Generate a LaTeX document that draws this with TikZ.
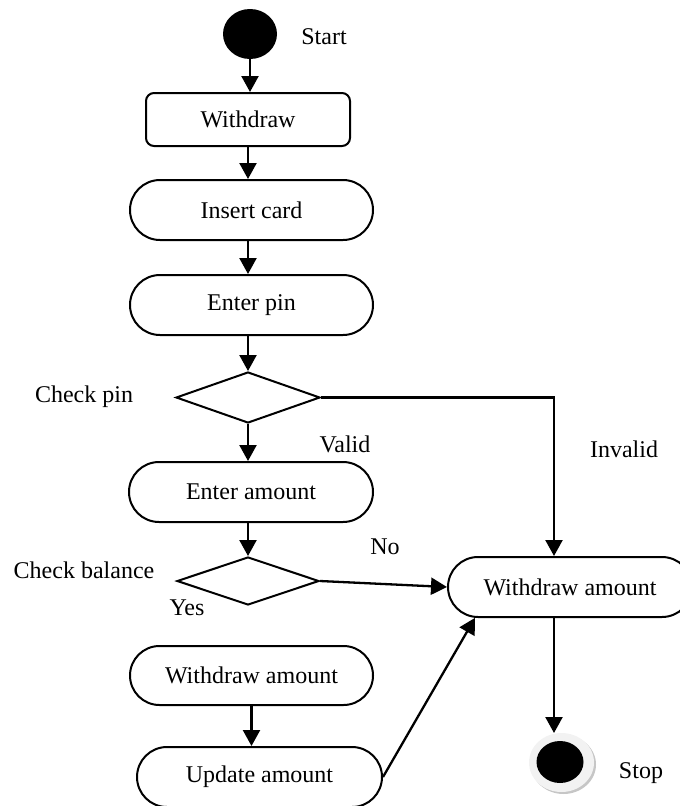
\documentclass[tikz,border=0pt]{standalone}
\usepackage{fontspec}
\setmainfont{Liberation Serif}
\usetikzlibrary{arrows.meta,shapes.geometric,shapes.misc}

\begin{document}
\begin{tikzpicture}[x=1pt,y=-1pt,
  every node/.style={font=\fontsize{24}{28}\selectfont},
  conn/.style={line width=2.3pt,-{Triangle[length=16pt,width=17pt]}},
  box/.style={draw,line width=2pt,inner sep=0pt},
  act/.style={box,rounded rectangle,minimum width=243pt,minimum height=60pt},
  dec/.style={box,diamond},
  lbl/.style={inner sep=0pt}]
  \useasboundingbox (0,0) rectangle (680,806);
  \clip (0,0) rectangle (680,806);

  % initial state
  \node[ellipse,fill=black,inner sep=0pt,minimum width=54pt,minimum height=50pt] (start) at (250,34) {};
  \node[lbl] (startlbl) at (324,37) {Start};

  % main flow
  \node[box,rectangle,rounded corners=8pt,minimum width=204pt,minimum height=53pt] (wd) at (248,119.5) {Withdraw};
  \node[act] (card) at (251.5,210) {Insert card};
  \node[act] (pin) at (251.5,305) {Enter pin};
  \node[dec,minimum width=144pt,minimum height=51pt] (d1) at (248,397.5) {};
  \node[lbl] (d1lbl) at (84,397) {Check pin};
  \node[act,minimum width=244pt] (amt) at (251,492) {Enter amount};
  \node[dec,minimum width=142pt,minimum height=48pt] (d2) at (248,581) {};
  \node[lbl] (d2lbl) at (84,570) {Check balance};
  \node[act,minimum height=59pt] (wamt) at (251.5,675.5) {Withdraw amount};
  \node[act,minimum width=245pt] (upd) at (259.5,777) {Update amount};

  % right column
  \node[act,minimum width=244pt] (wa) at (570,587) {Withdraw amount};
  \coordinate (col) at (554,587);

  % final state
  \fill[gray!45] (563.5,764.5) ellipse [x radius=32.5pt,y radius=29.5pt];
  \fill[gray!10] (561.5,762.5) ellipse [x radius=32.5pt,y radius=29.5pt];
  \node[ellipse,fill=black,inner sep=0pt,minimum width=47pt,minimum height=42pt] (stop) at (560,762) {};
  \coordinate (stoptop) at (554,733);
  \node[lbl] (stoplbl) at (641,773) {Stop};

  % guard labels
  \node[lbl] (valid) at (345,444) {Valid};
  \node[lbl] (invalid) at (624,449) {Invalid};
  \node[lbl] (no) at (385,547) {No};
  \node[lbl] (yes) at (187,608) {Yes};

  % transitions
  \draw[conn] (start.south) -- (start.south |- wd.north);
  \draw[conn] (wd.south) -- (card.north -| wd.south);
  \draw[conn] (card.south -| wd.south) -- (pin.north -| wd.south);
  \draw[conn] (pin.south -| d1.north) -- (d1.north);
  \draw[conn] (d1.south) -- (amt.north -| d1.south);
  \draw[conn] (amt.south -| d2.north) -- (d2.north);
  \draw[conn] (wamt.south) -- (upd.north -| wamt.south);
  \draw[conn] (d1.east) -| (col |- wa.north);
  \draw[conn] (d2.east) -- (wa.west);
  \draw[conn] (upd.east) -- (wa.198);
  \draw[conn] (col |- wa.south) -- (stoptop);
\end{tikzpicture}
\end{document}
